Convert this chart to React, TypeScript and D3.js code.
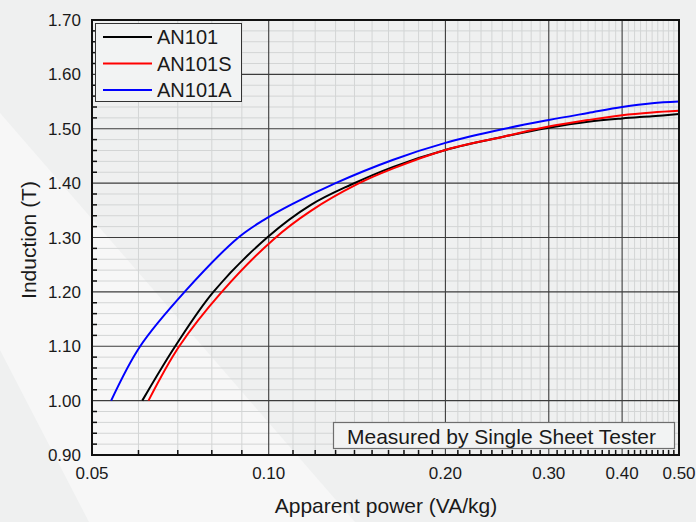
import React from "react";
import * as d3 from "d3";

const xMajorTicks = [0.05, 0.1, 0.2, 0.3, 0.4, 0.5];
const xTickLabels = ["0.05", "0.10", "0.20", "0.30", "0.40", "0.50"];
const yMajorTicks = [0.9, 1.0, 1.1, 1.2, 1.3, 1.4, 1.5, 1.6, 1.7];
const yTickLabels = ["0.90", "1.00", "1.10", "1.20", "1.30", "1.40", "1.50", "1.60", "1.70"];

const seriesNames = ["AN101", "AN101S", "AN101A"];
const seriesColors = ["#000000", "#ff0000", "#0000ff"];

const an101X = [0.0609, 0.0693, 0.0805, 0.0994, 0.118, 0.138, 0.163, 0.2, 0.25, 0.3, 0.35, 0.4, 0.45, 0.5];
const an101Y = [1.0, 1.1, 1.2, 1.3, 1.36, 1.397, 1.43, 1.461, 1.485, 1.502, 1.513, 1.519, 1.523, 1.527];

const an101sX = [0.0624, 0.0704, 0.0832, 0.102, 0.118, 0.1415, 0.163, 0.2, 0.25, 0.3, 0.35, 0.4, 0.45, 0.5];
const an101sY = [1.0, 1.1, 1.2, 1.297, 1.349, 1.398, 1.427, 1.461, 1.485, 1.504, 1.516, 1.525, 1.53, 1.533];

const an101aX = [0.0539, 0.0604, 0.0719, 0.0888, 0.098, 0.109, 0.13, 0.163, 0.2, 0.25, 0.3, 0.35, 0.4, 0.45, 0.5];
const an101aY = [1.0, 1.1, 1.2, 1.3, 1.332, 1.36, 1.4, 1.443, 1.474, 1.499, 1.516, 1.529, 1.54, 1.547, 1.55];

const noteText = "Measured by Single Sheet Tester";
const xTitle = "Apparent power (VA/kg)";
const yTitle = "Induction (T)";

const W = 696;
const H = 522;
const L = 92, R = 679, T = 20, B = 455;
const FONT = "'Liberation Sans', Arial, Helvetica, sans-serif";

export default function App() {
  const x = d3.scaleLog().domain([0.05, 0.5]).range([L, R]);
  const y = d3.scaleLinear().domain([0.9, 1.7]).range([B, T]);

  const xMinor: number[] = [];
  for (let i = 5; i <= 50; i++) {
    const v = i / 100;
    if (!xMajorTicks.some((m) => Math.abs(m - v) < 1e-9)) xMinor.push(v);
  }
  const yMinor: number[] = [];
  for (let i = 45; i <= 85; i++) {
    const v = i / 50;
    if (i % 5 !== 0) yMinor.push(v);
  }

  const line = d3
    .line<[number, number]>()
    .x((d) => x(d[0]))
    .y((d) => y(d[1]))
    .curve(d3.curveCatmullRom.alpha(0.5));

  const series = [
    { xs: an101X, ys: an101Y },
    { xs: an101sX, ys: an101sY },
    { xs: an101aX, ys: an101aY },
  ];

  return (
    <svg
      width={W}
      height={H}
      style={{ position: "fixed", left: 0, top: 0, display: "block" }}
      fontFamily={FONT}
    >
      <defs>
        <clipPath id="plotClip">
          <rect x={L} y={T} width={R - L} height={B - T} />
        </clipPath>
      </defs>
      <rect x={0} y={0} width={W} height={H} fill="#eff0f0" />
      <polygon points={`0,113 355,${H} 89,${H} 0,350`} fill="#f7f7f7" />

      {/* minor gridlines */}
      {xMinor.map((v) => (
        <line key={"xm" + v} x1={x(v)} x2={x(v)} y1={T} y2={B} stroke="#d3d5d5" strokeWidth={1} />
      ))}
      {yMinor.map((v) => (
        <line key={"ym" + v} x1={L} x2={R} y1={y(v)} y2={y(v)} stroke="#d3d5d5" strokeWidth={1} />
      ))}
      {/* major gridlines */}
      {xMajorTicks.slice(1, -1).map((v) => (
        <line key={"xM" + v} x1={x(v)} x2={x(v)} y1={T} y2={B} stroke="#3c3c3c" strokeWidth={1.1} />
      ))}
      {yMajorTicks.slice(1, -1).map((v) => (
        <line key={"yM" + v} x1={L} x2={R} y1={y(v)} y2={y(v)} stroke="#3c3c3c" strokeWidth={1.1} />
      ))}

      {/* ticks */}
      {xMinor.map((v) => (
        <line key={"xt" + v} x1={x(v)} x2={x(v)} y1={B} y2={B - 5} stroke="#111" strokeWidth={1.5} />
      ))}
      {yMinor.map((v) => (
        <line key={"yt" + v} x1={L} x2={L + 5} y1={y(v)} y2={y(v)} stroke="#111" strokeWidth={1.5} />
      ))}

      {/* curves */}
      <g clipPath="url(#plotClip)">
        {series.map((s, i) => (
          <path
            key={seriesNames[i]}
            d={line(s.xs.map((v, j) => [v, s.ys[j]] as [number, number])) || ""}
            fill="none"
            stroke={seriesColors[i]}
            strokeWidth={2}
          />
        ))}
      </g>

      {/* legend */}
      <rect x={95.5} y={23.5} width={146} height={78} fill="#f2f3f3" stroke="#333" strokeWidth={1} />
      {seriesNames.map((n, i) => {
        const yy = 37 + i * 26.5;
        return (
          <g key={"lg" + n}>
            <line x1={103} x2={152} y1={yy} y2={yy} stroke={seriesColors[i]} strokeWidth={2} />
            <text x={157} y={yy + 7} fontSize={20} fill="#1a1a1a">
              {n}
            </text>
          </g>
        );
      })}

      {/* note box */}
      <rect x={333.5} y={422.5} width={341} height={26} fill="#f2f3f3" stroke="#6e6e6e" strokeWidth={1.2} />
      <text x={347} y={444} fontSize={21} fill="#1a1a1a">
        {noteText}
      </text>

      {/* frame */}
      <rect x={L} y={T} width={R - L} height={B - T} fill="none" stroke="#111" strokeWidth={2} />

      {/* tick labels */}
      {xMajorTicks.map((v, i) => (
        <text key={"xl" + v} x={x(v)} y={479} fontSize={17} textAnchor="middle" fill="#1a1a1a">
          {xTickLabels[i]}
        </text>
      ))}
      {yMajorTicks.map((v, i) => (
        <text key={"yl" + v} x={81} y={y(v) + 6} fontSize={17} textAnchor="end" fill="#1a1a1a">
          {yTickLabels[i]}
        </text>
      ))}

      {/* axis titles */}
      <text x={386} y={513} fontSize={21} textAnchor="middle" fill="#1a1a1a">
        {xTitle}
      </text>
      <text transform="translate(36,240) rotate(-90)" fontSize={21} textAnchor="middle" fill="#1a1a1a">
        {yTitle}
      </text>
    </svg>
  );
}
